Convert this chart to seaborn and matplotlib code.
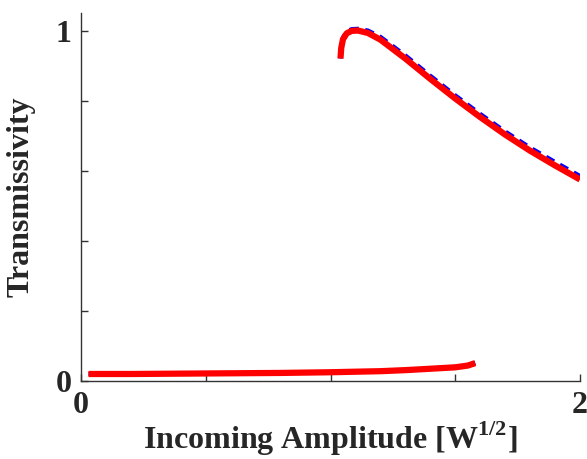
import matplotlib
matplotlib.use("Agg")
import matplotlib.pyplot as plt
import seaborn as sns
import pandas as pd

# upper branch (stable high-transmission state)
upper_x = [1.04, 1.043, 1.05, 1.065, 1.085, 1.11, 1.15, 1.2, 1.3, 1.4, 1.5, 1.6, 1.7, 1.8, 1.9, 2.0]
upper_red = [0.92, 0.95, 0.975, 0.992, 0.999, 1.0, 0.993, 0.974, 0.92, 0.862, 0.806, 0.753, 0.703, 0.657, 0.615, 0.575]
upper_blue = [0.92, 0.955, 0.98, 0.998, 1.004, 1.005, 1.0, 0.982, 0.929, 0.871, 0.815, 0.762, 0.712, 0.666, 0.625, 0.585]

# lower branch
lower_x = [0.03, 0.2, 0.4, 0.6, 0.8, 1.0, 1.2, 1.3, 1.4, 1.5, 1.55, 1.58]
lower_red = [0.020, 0.020, 0.021, 0.022, 0.023, 0.025, 0.028, 0.031, 0.035, 0.039, 0.044, 0.051]
lower_blue = [0.020, 0.020, 0.021, 0.022, 0.023, 0.025, 0.028, 0.031, 0.035, 0.040, 0.045, 0.052]

xticks = [0, 0.5, 1.0, 1.5, 2.0]
xticklabels = ["0", "", "", "", "2"]
yticks = [0, 0.2, 0.4, 0.6, 0.8, 1.0]
yticklabels = ["0", "", "", "", "", "1"]

sns.set_style("white")
plt.rcParams["font.family"] = ["Liberation Serif", "DejaVu Serif"]
plt.rcParams["mathtext.fontset"] = "custom"
plt.rcParams["mathtext.rm"] = "Liberation Serif:bold"
plt.rcParams["mathtext.bf"] = "Liberation Serif:bold"

fig = plt.figure(figsize=(5.87, 4.59), dpi=100)
ax = fig.add_axes([81/587, (459-381)/459, (580-81)/587, (381-13)/459])

up_b = pd.DataFrame({"x": upper_x, "y": upper_blue})
up_r = pd.DataFrame({"x": upper_x, "y": upper_red})
lo_b = pd.DataFrame({"x": lower_x, "y": lower_blue})
lo_r = pd.DataFrame({"x": lower_x, "y": lower_red})

sns.lineplot(data=up_b, x="x", y="y", ax=ax, color="#0000ff", lw=3, linestyle=(0, (2.2, 1.6)), sort=False)
sns.lineplot(data=lo_b, x="x", y="y", ax=ax, color="#0000ff", lw=3, linestyle=(0, (2.2, 1.6)), sort=False)
sns.lineplot(data=up_r, x="x", y="y", ax=ax, color="#ff0000", lw=4.5, sort=False, solid_capstyle="butt")
sns.lineplot(data=lo_r, x="x", y="y", ax=ax, color="#ff0000", lw=4.5, sort=False, solid_capstyle="butt")

ax.set_xlim(0, 2)
ax.set_ylim(0, 1.05)
ax.set_xticks(xticks)
ax.set_xticklabels(xticklabels)
ax.set_yticks(yticks)
ax.set_yticklabels(yticklabels)
ax.tick_params(bottom=True, left=True, direction="in", length=5, width=1,
               color="#333333", labelsize=23, pad=7)
for lab in ax.get_xticklabels() + ax.get_yticklabels():
    lab.set_fontweight("bold")
for s in ["top", "right"]:
    ax.spines[s].set_visible(False)
for s in ["left", "bottom"]:
    ax.spines[s].set_color("#333333")
    ax.spines[s].set_linewidth(1)

ax.set_xlabel(r"Incoming Amplitude [W$^{\mathbf{1/2}}$]", fontsize=23, fontweight="bold", labelpad=0)
ax.set_ylabel("Transmissivity", fontsize=23, fontweight="bold", labelpad=14)

fig.savefig("out.png", dpi=100, facecolor="white")
